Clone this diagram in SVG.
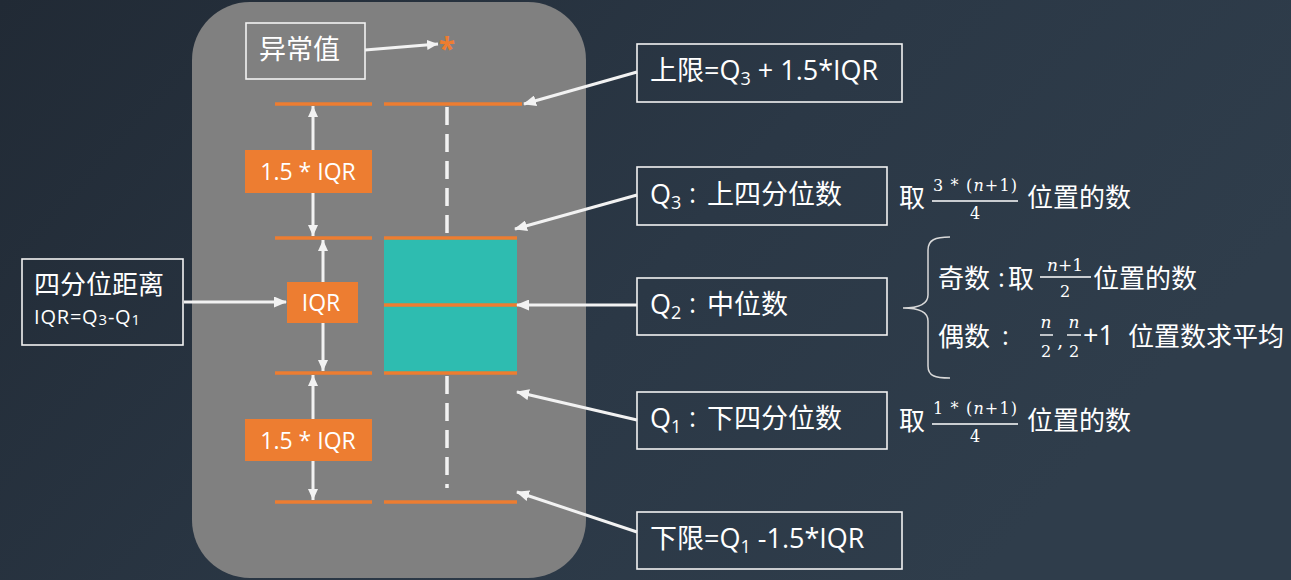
<svg xmlns="http://www.w3.org/2000/svg" width="1291" height="580" viewBox="0 0 1291 580">
<defs>
<linearGradient id="bgg" x1="0" y1="0" x2="1" y2="0.4">
<stop offset="0" stop-color="#212a35"/>
<stop offset="0.6" stop-color="#2b3846"/>
<stop offset="1" stop-color="#2f3d4b"/>
</linearGradient>
<marker id="arr" markerUnits="userSpaceOnUse" markerWidth="13" markerHeight="11" refX="12" refY="5.5" orient="auto-start-reverse" viewBox="0 0 13 11">
<path d="M0,0 L13,5.5 L0,11 z" fill="#f2f2f2"/>
</marker>
<marker id="arrs" markerUnits="userSpaceOnUse" markerWidth="11" markerHeight="10" refX="11" refY="5" orient="auto-start-reverse" viewBox="0 0 11 10">
<path d="M0,0 L11,5 L0,10 z" fill="#f2f2f2"/>
</marker>
</defs>
<style>
.t{font-family:"Open Sans","Noto Sans CJK SC",sans-serif;fill:#ffffff}
.m{font-family:"DejaVu Serif","Liberation Serif",serif;fill:#ffffff}
.ol{stroke:#ed7d31;stroke-width:3.5}
.o{fill:#ed7d31}
.wl{stroke:#f2f2f2;stroke-width:3;fill:none}
.box{fill:none;stroke:#f2f2f2;stroke-width:1.6}
.bar{stroke:#ffffff;stroke-width:1.4}
</style>
<rect width="1291" height="580" fill="url(#bgg)"/>
<rect x="192" y="2" width="394" height="576" rx="58" ry="58" fill="#808080"/>

<g id="boxplot">
<line class="ol" x1="275" y1="104" x2="372" y2="104"/>
<line class="ol" x1="384" y1="104" x2="522" y2="104"/>
<line x1="447" y1="107" x2="447" y2="237" stroke="#f2f2f2" stroke-width="3.5" stroke-dasharray="18,9"/>
<line x1="447" y1="376" x2="447" y2="488" stroke="#f2f2f2" stroke-width="3.5" stroke-dasharray="18,9"/>
<rect x="384" y="238" width="133" height="135" fill="#2ebcb0"/>
<line class="ol" x1="275" y1="238" x2="372" y2="238"/>
<line class="ol" x1="384" y1="238" x2="517" y2="238"/>
<line class="ol" x1="384" y1="305" x2="517" y2="305"/>
<line class="ol" x1="275" y1="373" x2="372" y2="373"/>
<line class="ol" x1="384" y1="373" x2="517" y2="373"/>
<line class="ol" x1="275" y1="502" x2="372" y2="502"/>
<line class="ol" x1="384" y1="502" x2="517" y2="502"/>
<text class="t" x="447" y="59" font-size="30" font-weight="bold" text-anchor="middle" style="fill:#ed7d31">*</text>
</g>

<g id="connectors">
<line class="wl" x1="313" y1="106" x2="313" y2="236" marker-start="url(#arrs)" marker-end="url(#arrs)"/>
<line class="wl" x1="323" y1="240" x2="323" y2="371" marker-start="url(#arrs)" marker-end="url(#arrs)"/>
<line class="wl" x1="313" y1="375" x2="313" y2="500" marker-start="url(#arrs)" marker-end="url(#arrs)"/>
<line class="wl" x1="365" y1="50" x2="438" y2="44" stroke-width="2" marker-end="url(#arrs)"/>
<line class="wl" x1="184" y1="302" x2="286" y2="302" marker-end="url(#arr)"/>
<line class="wl" x1="637" y1="72" x2="524" y2="104" marker-end="url(#arr)"/>
<line class="wl" x1="637" y1="195" x2="515" y2="229" marker-end="url(#arr)"/>
<line class="wl" x1="637" y1="305" x2="517" y2="305" marker-end="url(#arr)"/>
<line class="wl" x1="637" y1="420" x2="517" y2="392" marker-end="url(#arr)"/>
<line class="wl" x1="637" y1="532" x2="517" y2="492" marker-end="url(#arr)"/>
</g>

<g id="outlier-label">
<rect class="box" x="246" y="23" width="119" height="56"/>
<text class="t" x="259" y="59" font-size="27">异常值</text>
</g>

<g id="iqr-upper">
<rect class="o" x="245" y="150" width="127" height="43"/>
<text class="t" x="308" y="180" font-size="23" text-anchor="middle">1.5 * IQR</text>
</g>
<g id="iqr-mid">
<rect class="o" x="287" y="282" width="71" height="41"/>
<text class="t" x="321" y="311" font-size="23" text-anchor="middle">IQR</text>
</g>
<g id="iqr-lower">
<rect class="o" x="245" y="419" width="127" height="42"/>
<text class="t" x="308" y="449" font-size="23" text-anchor="middle">1.5 * IQR</text>
</g>

<g id="iqr-def">
<rect class="box" x="22" y="259" width="161" height="86"/>
<text class="t" x="34" y="294" font-size="26">四分位距离</text>
<text class="t" x="34" y="324" font-size="20" letter-spacing="0.8">IQR=Q<tspan font-size="15" dy="1">3</tspan><tspan dy="-1">-Q</tspan><tspan font-size="15" dy="1">1</tspan></text>
</g>

<g id="upper-limit">
<rect class="box" x="637" y="44" width="265" height="58"/>
<text class="t" x="650" y="80" font-size="27">上限=Q<tspan font-size="18" dy="5">3</tspan><tspan dy="-5"> + 1.5*IQR</tspan></text>
</g>

<g id="q3">
<rect class="box" x="637" y="167" width="250" height="58"/>
<text class="t" x="650" y="204" font-size="27">Q<tspan font-size="18" dy="5">3</tspan></text>
<text class="t" x="689" y="203" font-size="27">:</text>
<text class="t" x="707" y="204" font-size="27">上四分位数</text>
</g>

<g id="q2">
<rect class="box" x="637" y="278" width="250" height="57"/>
<text class="t" x="650" y="314" font-size="27">Q<tspan font-size="18" dy="5">2</tspan></text>
<text class="t" x="689" y="313" font-size="27">:</text>
<text class="t" x="707" y="314" font-size="27">中位数</text>
</g>

<g id="q1">
<rect class="box" x="637" y="392" width="250" height="57"/>
<text class="t" x="650" y="428" font-size="27">Q<tspan font-size="18" dy="5">1</tspan></text>
<text class="t" x="689" y="427" font-size="27">:</text>
<text class="t" x="707" y="428" font-size="27">下四分位数</text>
</g>

<g id="lower-limit">
<rect class="box" x="637" y="512" width="265" height="57"/>
<text class="t" x="650" y="548" font-size="27">下限=Q<tspan font-size="18" dy="5">1</tspan><tspan dy="-5"> -1.5*IQR</tspan></text>
</g>

<g id="q3-note">
<text class="t" x="899" y="207" font-size="26">取</text>
<text class="m" x="975" y="191" font-size="16" text-anchor="middle" textLength="84" lengthAdjust="spacing">3 * (<tspan font-style="italic">n</tspan>+1)</text>
<line class="bar" x1="932" y1="201" x2="1018" y2="201"/>
<text class="m" x="975" y="219" font-size="16" text-anchor="middle">4</text>
<text class="t" x="1027" y="207" font-size="26">位置的数</text>
</g>

<g id="median-note">
<path d="M950,237 C935,237 928,240 928,250 L928,295 C928,303 920,308 903,308 C920,308 928,313 928,321 L928,366 C928,376 935,378 950,378" fill="none" stroke="#d9d9d9" stroke-width="1.5"/>
<text class="t" x="938" y="288" font-size="26">奇数</text>
<text class="t" x="998" y="287" font-size="26">:</text>
<text class="t" x="1008" y="288" font-size="26">取</text>
<text class="m" x="1065" y="271" font-size="17" text-anchor="middle"><tspan font-style="italic">n</tspan>+1</text>
<line class="bar" x1="1040" y1="277" x2="1091" y2="277"/>
<text class="m" x="1065" y="297" font-size="16" text-anchor="middle">2</text>
<text class="t" x="1093" y="288" font-size="26">位置的数</text>
<text class="t" x="938" y="346" font-size="26">偶数</text>
<text class="t" x="1002" y="345" font-size="26">:</text>
<text class="m" x="1046" y="328" font-size="17" text-anchor="middle" font-style="italic">n</text>
<line class="bar" x1="1040" y1="335" x2="1053" y2="335"/>
<text class="m" x="1046" y="357" font-size="16" text-anchor="middle">2</text>
<text class="m" x="1057" y="347" font-size="20">,</text>
<text class="m" x="1074" y="328" font-size="17" text-anchor="middle" font-style="italic">n</text>
<line class="bar" x1="1067" y1="335" x2="1081" y2="335"/>
<text class="m" x="1074" y="357" font-size="16" text-anchor="middle">2</text>
<text class="t" x="1083" y="345" font-size="27">+1</text>
<text class="t" x="1128" y="346" font-size="26">位置数求平均</text>
</g>

<g id="q1-note">
<text class="t" x="899" y="430" font-size="26">取</text>
<text class="m" x="975" y="414" font-size="16" text-anchor="middle" textLength="84" lengthAdjust="spacing">1 * (<tspan font-style="italic">n</tspan>+1)</text>
<line class="bar" x1="932" y1="424" x2="1018" y2="424"/>
<text class="m" x="975" y="442" font-size="16" text-anchor="middle">4</text>
<text class="t" x="1027" y="430" font-size="26">位置的数</text>
</g>
</svg>
